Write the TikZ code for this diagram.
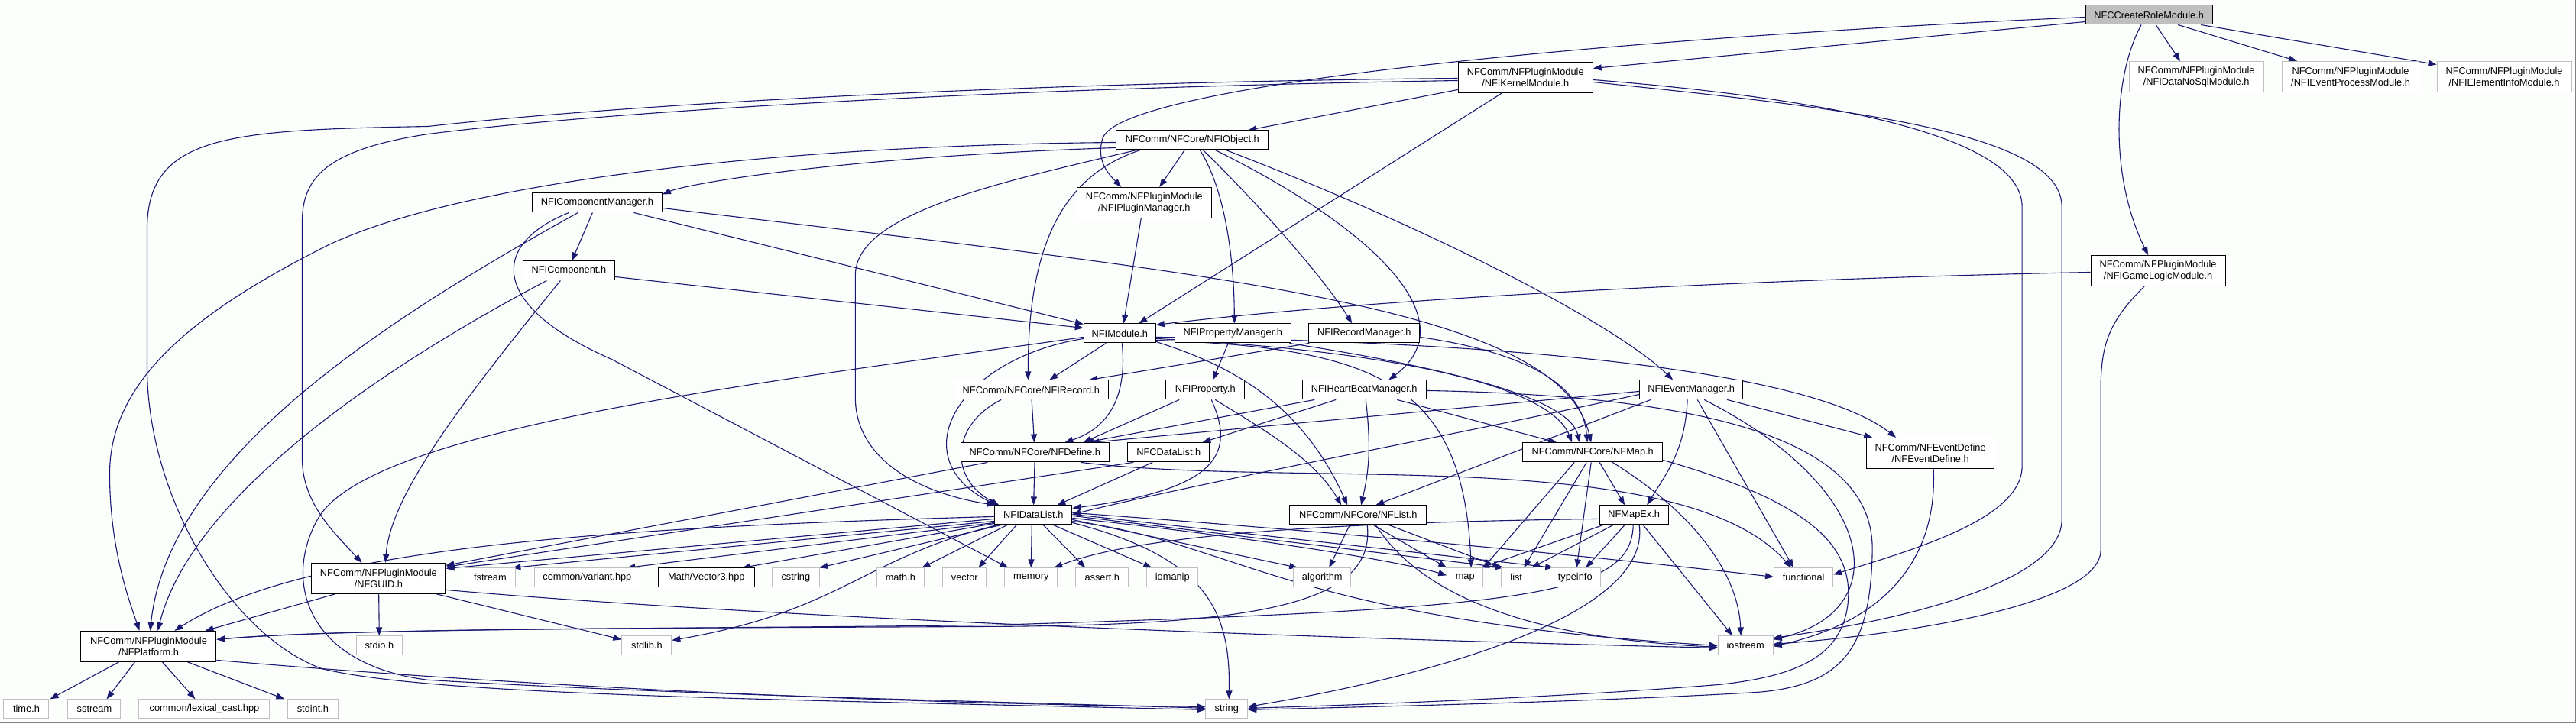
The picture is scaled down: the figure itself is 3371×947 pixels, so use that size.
\documentclass[tikz,border=0pt]{standalone}
\usepackage{fontspec}
\setmainfont{Liberation Sans}
\usetikzlibrary{arrows.meta}

\definecolor{edgeblue}{HTML}{191970}
\definecolor{extgray}{HTML}{BFBFBF}
\definecolor{rootgray}{HTML}{BFBFBF}
\definecolor{bgcol}{HTML}{FCFEFC}
\definecolor{framegray}{HTML}{808080}

\pgfdeclarelayer{back}
\pgfdeclarelayer{edges}
\pgfsetlayers{back,edges,main}

\begin{document}
\begin{tikzpicture}[x=1pt, y=-1pt,
    file/.style={draw=black, fill=white, line width=1pt, inner sep=0pt,
        minimum height=25pt, align=center,
        font=\fontsize{12.8}{14.5}\selectfont},
    ext/.style={file, draw=extgray},
    two/.style={minimum height=40pt},
    edge/.style={draw=edgeblue, line width=1.1pt,
        -{Triangle[length=11pt,width=8pt]}}]

    % 背景与边框
    \begin{pgfonlayer}{back}
        \fill[bgcol] (0,0) rectangle (3371,947);
        \draw[framegray, line width=1pt] (0,946.5) -- (3370.5,946.5) -- (3370.5,0);
    \end{pgfonlayer}
    \useasboundingbox (0,0) rectangle (3371,947);

    % 顶层文件
    \node[file, fill=rootgray, minimum width=166pt] (crm) at (2812,19) {NFCCreateRoleModule.h};
    \node[file, two, minimum width=176pt] (kern) at (1996,101) {NFComm/NFPluginModule\\/NFIKernelModule.h};
    \node[ext, two, minimum width=176pt] (nosql) at (2874,100) {NFComm/NFPluginModule\\/NFIDataNoSqlModule.h};
    \node[ext, two, minimum width=179pt] (evproc) at (3076,100) {NFComm/NFPluginModule\\/NFIEventProcessModule.h};
    \node[ext, two, minimum width=176pt] (elem) at (3277,100) {NFComm/NFPluginModule\\/NFIElementInfoModule.h};
    \node[file, two, minimum width=176pt] (glm) at (2824,354) {NFComm/NFPluginModule\\/NFIGameLogicModule.h};

    % 中间层
    \node[file, minimum width=199pt] (obj) at (1560,183) {NFComm/NFCore/NFIObject.h};
    \node[file, two, minimum width=176pt] (plug) at (1497,265) {NFComm/NFPluginModule\\/NFIPluginManager.h};
    \node[file, minimum width=170pt] (cmgr) at (781,265) {NFIComponentManager.h};
    \node[file, minimum width=120pt] (comp) at (744,354) {NFIComponent.h};
    \node[file, minimum width=94pt] (mod) at (1465,436) {NFIModule.h};
    \node[file, minimum width=152pt] (pmgr) at (1613,436) {NFIPropertyManager.h};
    \node[file, minimum width=145pt] (rmgr) at (1785,436) {NFIRecordManager.h};
    \node[file, minimum width=202pt] (rec) at (1349,510) {NFComm/NFCore/NFIRecord.h};
    \node[file, minimum width=103pt] (prop) at (1577,510) {NFIProperty.h};
    \node[file, minimum width=162pt] (hbm) at (1785,510) {NFIHeartBeatManager.h};
    \node[file, minimum width=135pt] (evm) at (2213,510) {NFIEventManager.h};
    \node[file, minimum width=194pt] (def) at (1354,592) {NFComm/NFCore/NFDefine.h};
    \node[file, minimum width=107pt] (cdl) at (1529,592) {NFCDataList.h};
    \node[file, minimum width=183pt] (nfmap) at (2084,592) {NFComm/NFCore/NFMap.h};
    \node[file, two, minimum width=167pt] (evdef) at (2526,593) {NFComm/NFEventDefine\\/NFEventDefine.h};
    \node[file, minimum width=101pt] (idl) at (1352,674) {NFIDataList.h};
    \node[file, minimum width=179pt] (nflist) at (1777,674) {NFComm/NFCore/NFList.h};
    \node[file, minimum width=90pt] (mapex) at (2138,674) {NFMapEx.h};
    \node[file, two, minimum width=175pt] (guid) at (495,757) {NFComm/NFPluginModule\\/NFGUID.h};
    \node[file, two, minimum width=177pt] (platform) at (194,846) {NFComm/NFPluginModule\\/NFPlatform.h};

    % 系统头文件
    \node[ext, minimum width=66pt] (fstream) at (641,756) {fstream};
    \node[ext, minimum width=138pt] (variant) at (768,756) {common/variant.hpp};
    \node[file, minimum width=126pt] (vec3) at (924,756) {Math/Vector3.hpp};
    \node[ext, minimum width=62pt] (cstring) at (1041,756) {cstring};
    \node[ext, minimum width=62pt] (mathh) at (1178,756) {math.h};
    \node[ext, minimum width=57pt] (vector) at (1262,756) {vector};
    \node[ext, minimum width=69pt] (memory) at (1349,756) {memory};
    \node[ext, minimum width=69pt] (asserth) at (1442,756) {assert.h};
    \node[ext, minimum width=67pt] (iomanip) at (1534,756) {iomanip};
    \node[ext, minimum width=75pt] (algorithm) at (1730,756) {algorithm};
    \node[ext, minimum width=47pt] (mapstd) at (1917,756) {map};
    \node[ext, minimum width=39pt] (liststd) at (1984,756) {list};
    \node[ext, minimum width=66pt] (typeinfo) at (2061,756) {typeinfo};
    \node[ext, minimum width=77pt] (functional) at (2360,756) {functional};
    \node[ext, minimum width=60pt] (stdio) at (496,845) {stdio.h};
    \node[ext, minimum width=65pt] (stdlib) at (846,845) {stdlib.h};
    \node[ext, minimum width=72pt] (iostream) at (2284,845) {iostream};
    \node[ext, minimum width=59pt] (timeh) at (34,928) {time.h};
    \node[ext, minimum width=69pt] (sstream) at (123,928) {sstream};
    \node[ext, minimum width=171pt] (lexcast) at (267,928) {common/lexical\_cast.hpp};
    \node[ext, minimum width=66pt] (stdint) at (409,928) {stdint.h};
    \node[ext, minimum width=55pt] (string) at (1605,928) {string};

    \begin{pgfonlayer}{edges}
    % NFCCreateRoleModule.h
    \draw[edge] ([yshift=-9pt]crm.west) -- ([yshift=12pt]kern.east);
    \draw[edge] ([yshift=-3pt]crm.west) .. controls (2100,50) and (1470,110) .. (1443,180)
        .. controls (1432,212) and (1455,232) .. ([xshift=-30pt]plug.north);
    \draw[edge] ([xshift=9pt]crm.south) -- ([xshift=-21pt]nosql.north);
    \draw[edge] ([xshift=38pt]crm.south) -- ([xshift=-70pt]evproc.north);
    \draw[edge] ([xshift=68pt]crm.south) -- ([yshift=16pt]elem.west);
    \draw[edge] ([xshift=-10pt]crm.south) .. controls (2765,100) and (2760,230) .. ([xshift=-13pt]glm.north);

    % NFIKernelModule.h
    \draw[edge] ([yshift=-16pt]kern.west) -- ([xshift=73pt]obj.north);
    \draw[edge] ([xshift=-31pt]kern.south) -- ([xshift=25pt]mod.north);
    \draw[edge] ([yshift=-1pt]kern.west) .. controls (1300,108) and (800,138) .. (560,165)
        .. controls (300,170) and (192,175) .. (192,300) -- (192,480)
        .. controls (192,650) and (300,830) .. (420,875)
        .. controls (560,910) and (1000,915) .. ([yshift=-1pt]string.west);
    \draw[edge] ([yshift=-4pt]kern.west) .. controls (1300,115) and (800,145) .. (560,175)
        .. controls (430,195) and (395,230) .. (395,290) -- (395,600)
        .. controls (395,660) and (440,700) .. ([xshift=-22pt]guid.north);
    \draw[edge] ([yshift=-3pt]kern.east) .. controls (2350,125) and (2646,170) .. (2646,270) -- (2646,610)
        .. controls (2646,680) and (2500,720) .. ([yshift=4pt]functional.east);
    \draw[edge] ([yshift=-6pt]kern.east) .. controls (2400,140) and (2698,170) .. (2698,270) -- (2698,680)
        .. controls (2698,760) and (2500,810) .. ([yshift=10pt]iostream.east);

    % NFIGameLogicModule.h
    \draw[edge] ([xshift=-18pt]glm.south) .. controls (2760,420) and (2749,450) .. (2749,510) -- (2749,720)
        .. controls (2749,790) and (2500,830) .. ([yshift=2pt]iostream.east);
    \draw[edge] ([yshift=-2pt]glm.west) .. controls (2300,365) and (1800,390) .. ([yshift=11pt]mod.east);

    % NFIObject.h
    \draw[edge] ([xshift=-10pt]obj.south) -- ([xshift=20pt]plug.north);
    \draw[edge] ([xshift=10pt]obj.south) .. controls (1610,260) and (1615,370) .. ([xshift=2pt]pmgr.north);
    \draw[edge] ([xshift=14pt]obj.south) .. controls (1640,260) and (1730,360) .. ([xshift=-16pt]rmgr.north);
    \draw[edge] ([xshift=30pt]obj.south) .. controls (1800,300) and (1920,420) .. ([xshift=32pt]hbm.north);
    \draw[edge] ([xshift=44pt]obj.south) .. controls (1900,310) and (2120,430) .. ([xshift=-24pt]evm.north);
    \draw[edge] ([yshift=-10pt]obj.west) .. controls (1100,205) and (900,240) .. ([yshift=11pt]cmgr.east);
    \draw[edge] ([yshift=-3pt]obj.west) .. controls (1000,190) and (600,240) .. (430,320)
        .. controls (250,410) and (143,500) .. (143,620)
        .. controls (143,720) and (170,790) .. ([xshift=-12pt]platform.north);
    \draw[edge] ([xshift=-73pt]obj.south) .. controls (1300,240) and (1119,280) .. (1119,360) -- (1119,520)
        .. controls (1119,600) and (1200,645) .. ([xshift=1pt]idl.north west);
    \draw[edge] ([xshift=-68pt]obj.south) .. controls (1390,230) and (1345,320) .. ([xshift=-4pt]rec.north);

    % NFIPluginManager.h
    \draw[edge] ([xshift=-4pt]plug.south) -- ([xshift=5pt]mod.north);

    % NFIComponentManager.h
    \draw[edge] ([xshift=-6pt]cmgr.south) -- ([xshift=4pt]comp.north);
    \draw[edge] ([xshift=48pt]cmgr.south) -- ([yshift=12pt]mod.west);
    \draw[edge] ([yshift=-7pt]cmgr.east) .. controls (1600,360) and (2040,400) .. ([xshift=-2pt]nfmap.north);
    \draw[edge] ([xshift=-37pt]cmgr.south) .. controls (640,320) and (640,400) .. (800,470) -- ([xshift=-30pt]memory.north);
    \draw[edge] ([xshift=-25pt]cmgr.south) .. controls (500,420) and (220,600) .. ([xshift=2pt]platform.north);

    % NFIComponent.h
    \draw[edge] ([yshift=-8pt]comp.east) -- ([yshift=7pt]mod.west);
    \draw[edge] ([xshift=-29pt]comp.south) .. controls (500,480) and (250,650) .. ([xshift=12pt]platform.north);
    \draw[edge] ([xshift=-11pt]comp.south) .. controls (600,530) and (510,650) .. ([xshift=9pt]guid.north);

    % NFIModule.h
    \draw[edge] ([xshift=-18pt]mod.south) -- ([xshift=24pt]rec.north);
    \draw[edge] ([xshift=3pt]mod.south) .. controls (1475,520) and (1450,560) .. ([xshift=39pt]def.north);
    \draw[edge] ([yshift=-7pt]mod.west) .. controls (1250,470) and (1180,600) .. ([xshift=3pt]idl.north west);
    \draw[edge] ([yshift=-5pt]mod.west) .. controls (1000,500) and (480,560) .. (415,680)
        .. controls (370,760) and (400,870) .. (560,890)
        .. controls (900,910) and (1300,918) .. ([yshift=1pt]string.west);
    \draw[edge] ([yshift=-9pt]mod.east) .. controls (1800,455) and (1915,500) .. ([xshift=8pt]mapstd.north);
    \draw[edge] ([yshift=-5pt]mod.east) .. controls (1850,445) and (2350,470) .. ([xshift=-45pt]evdef.north);
    \draw[edge] ([yshift=-11pt]mod.east) .. controls (1600,475) and (1700,520) .. ([xshift=-14pt]nflist.north);
    \draw[edge] ([yshift=-7pt]mod.east) .. controls (1850,460) and (2030,510) .. ([xshift=-27pt]nfmap.north);

    % NFIPropertyManager.h / NFIRecordManager.h
    \draw[edge] ([xshift=-6pt]pmgr.south) -- ([xshift=10pt]prop.north);
    \draw[edge] ([xshift=74pt]pmgr.south) .. controls (1950,490) and (2055,530) .. ([xshift=-17pt]nfmap.north);
    \draw[edge] ([xshift=-72pt]rmgr.south) -- ([xshift=76pt]rec.north);
    \draw[edge] ([yshift=-5pt]rmgr.east) .. controls (1990,460) and (2070,500) .. ([xshift=-7pt]nfmap.north);

    % NFIRecord.h / NFIProperty.h
    \draw[edge] (rec) -- (def);
    \draw[edge] ([xshift=-39pt]rec.south) .. controls (1245,555) and (1240,625) .. ([xshift=6pt]idl.north west);
    \draw[edge] ([xshift=-34pt]prop.south) -- ([xshift=63pt]def.north);
    \draw[edge] ([xshift=8pt]prop.south) .. controls (1615,590) and (1600,640) .. ([yshift=9pt]idl.east);
    \draw[edge] ([xshift=13pt]prop.south) .. controls (1650,560) and (1720,600) .. ([xshift=-22pt]nflist.north);

    % NFIHeartBeatManager.h
    \draw[edge] ([xshift=-65pt]hbm.south) -- ([xshift=66pt]def.north);
    \draw[edge] ([xshift=-37pt]hbm.south) -- ([xshift=44pt]cdl.north);
    \draw[edge] ([xshift=2pt]hbm.south) .. controls (1795,590) and (1790,620) .. ([xshift=4pt]nflist.north);
    \draw[edge] ([xshift=43pt]hbm.south) -- ([xshift=-47pt]nfmap.north);
    \draw[edge] ([yshift=-1pt]hbm.east) .. controls (2250,518) and (2452,580) .. (2450,720)
        .. controls (2448,850) and (2410,897) .. (2300,906)
        .. controls (2100,918) and (1800,925) .. ([yshift=-1pt]string.east);

    % NFIEventManager.h
    \draw[edge] ([yshift=-2pt]evm.west) -- ([xshift=73pt]def.north);
    \draw[edge] ([yshift=-6pt]evm.west) .. controls (1900,570) and (1600,625) .. ([yshift=1pt]idl.east);
    \draw[edge] ([xshift=-53pt]evm.south) -- ([xshift=23pt]nflist.north);
    \draw[edge] ([xshift=-5pt]evm.south) .. controls (2205,590) and (2180,620) .. ([xshift=17pt]mapex.north);
    \draw[edge] ([xshift=8pt]evm.south) -- ([xshift=-13pt]functional.north);
    \draw[edge] ([xshift=17pt]evm.south) .. controls (2460,640) and (2480,800) .. ([yshift=8pt]iostream.east);
    \draw[edge] ([xshift=47pt]evm.south) -- ([xshift=-76pt]evdef.north);

    % NFDefine.h / NFCDataList.h
    \draw[edge] (def) -- (idl);
    \draw[edge] ([xshift=-62pt]def.south) -- ([yshift=17pt]guid.east);
    \draw[edge] ([xshift=60pt]def.south) .. controls (1700,640) and (2200,580) .. ([xshift=-16pt]functional.north);
    \draw[edge] ([xshift=-21pt]cdl.south) -- ([xshift=31pt]idl.north);
    \draw[edge] ([xshift=-46pt]cdl.south) -- ([yshift=15pt]guid.east);

    % NFIDataList.h
    \draw[edge] ([yshift=-2pt]idl.west) .. controls (800,690) and (400,715) .. ([xshift=34pt]platform.north);
    \draw[edge] ([yshift=-5pt]idl.west) -- ([yshift=13pt]guid.east);
    \draw[edge] ([yshift=-8pt]idl.west) -- ([xshift=29pt]fstream.north);
    \draw[edge] ([yshift=-10pt]idl.west) -- ([xshift=52pt]variant.north);
    \draw[edge] ([yshift=-11pt]idl.west) -- ([xshift=47pt]vec3.north);
    \draw[edge] ([xshift=-42pt]idl.south) -- ([xshift=31pt]cstring.north);
    \draw[edge] ([xshift=4pt]idl.south west) .. controls (1130,730) and (1100,800) .. ([yshift=7pt]stdlib.east);
    \draw[edge] ([xshift=-34pt]idl.south) -- ([xshift=28pt]mathh.north);
    \draw[edge] ([xshift=-22pt]idl.south) -- ([xshift=18pt]vector.north);
    \draw[edge] ([xshift=-2pt]idl.south) -- (memory.north);
    \draw[edge] ([xshift=13pt]idl.south) -- ([xshift=-22pt]asserth.north);
    \draw[edge] ([xshift=26pt]idl.south) -- ([xshift=-27pt]iomanip.north);
    \draw[edge] ([yshift=-6pt]idl.east) -- ([xshift=-32pt]algorithm.north);
    \draw[edge] ([yshift=-10pt]idl.east) .. controls (1580,730) and (1610,800) .. ([xshift=3pt]string.north);
    \draw[edge] ([yshift=-4pt]idl.east) .. controls (1700,710) and (1850,740) .. ([yshift=3pt]mapstd.west);
    \draw[edge] ([yshift=-1pt]idl.east) -- ([xshift=-16pt]liststd.north);
    \draw[edge] ([yshift=1pt]idl.east) -- ([xshift=-28pt]typeinfo.north);
    \draw[edge] ([yshift=3pt]idl.east) .. controls (1800,700) and (2100,730) .. ([yshift=1pt]functional.west);
    \draw[edge] ([yshift=-8pt]idl.east) .. controls (1620,710) and (1680,810) .. (iostream.west);

    % NFList.h
    \draw[edge] ([xshift=-11pt]nflist.south) -- ([xshift=9pt]algorithm.north);
    \draw[edge] ([xshift=20pt]nflist.south) -- (mapstd.north west);
    \draw[edge] ([xshift=40pt]nflist.south) -- (liststd.north west);
    \draw[edge] ([xshift=12pt]nflist.south) .. controls (1800,790) and (1650,818) .. (1300,820)
        .. controls (900,822) and (450,822) .. ([yshift=9pt]platform.east);
    \draw[edge] ([xshift=23pt]nflist.south) .. controls (1860,780) and (2000,835) .. ([yshift=-2pt]iostream.west);

    % NFMap.h
    \draw[edge] ([xshift=-24pt]nfmap.south) -- (mapstd.north east);
    \draw[edge] ([xshift=-8pt]nfmap.south) -- ([xshift=10pt]liststd.north);
    \draw[edge] ([xshift=-2pt]nfmap.south) -- ([xshift=2pt]typeinfo.north);
    \draw[edge] ([xshift=9pt]nfmap.south) -- ([xshift=-12pt]mapex.north);
    \draw[edge] ([xshift=26pt]nfmap.south) .. controls (2230,680) and (2275,760) .. ([xshift=-6pt]iostream.north);
    \draw[edge] ([yshift=-10pt]nfmap.east) .. controls (2380,660) and (2425,720) .. (2418,790)
        .. controls (2410,860) and (2350,885) .. (2250,896)
        .. controls (2050,912) and (1800,922) .. ([yshift=1pt]string.east);

    % NFMapEx.h
    \draw[edge] ([yshift=-5pt]mapex.west) .. controls (1800,683) and (1500,695) .. ([xshift=30pt]memory.north);
    \draw[edge] ([xshift=-40pt]mapex.south) -- ([xshift=-3pt]mapstd.north east);
    \draw[edge] ([xshift=-27pt]mapex.south) -- (liststd.north east);
    \draw[edge] ([xshift=-12pt]mapex.south) -- ([xshift=14pt]typeinfo.north);
    \draw[edge] ([xshift=12pt]mapex.south) -- ([xshift=-17pt]iostream.north);
    \draw[edge] ([xshift=-1pt]mapex.south) .. controls (2135,780) and (2000,797) .. (1300,818)
        .. controls (900,823) and (450,822) .. ([yshift=9pt]platform.east);
    \draw[edge] ([xshift=7pt]mapex.south) .. controls (2160,800) and (1900,880) .. ([yshift=3pt]string.east);

    % NFGUID.h
    \draw[edge] ([xshift=-57pt]guid.south) -- ([xshift=74pt]platform.north);
    \draw[edge] (guid) -- (stdio);
    \draw[edge] ([xshift=76pt]guid.south) -- ([yshift=8pt]stdlib.west);
    \draw[edge] ([yshift=-15pt]guid.east) .. controls (900,800) and (1500,830) .. ([yshift=-3pt]iostream.west);

    % NFPlatform.h
    \draw[edge] ([xshift=-39pt]platform.south) -- ([xshift=31pt]timeh.north);
    \draw[edge] ([xshift=-18pt]platform.south) -- ([xshift=16pt]sstream.north);
    \draw[edge] ([xshift=18pt]platform.south) -- ([xshift=-12pt]lexcast.north);
    \draw[edge] ([xshift=51pt]platform.south) -- ([xshift=-37pt]stdint.north);
    \draw[edge] ([yshift=-18pt]platform.east) .. controls (700,900) and (1200,922) .. ([yshift=3pt]string.west);

    % NFEventDefine.h
    \draw[edge] ([xshift=4pt]evdef.south) .. controls (2535,720) and (2480,810) .. ([yshift=-1pt]iostream.east);
    \end{pgfonlayer}
\end{tikzpicture}
\end{document}
